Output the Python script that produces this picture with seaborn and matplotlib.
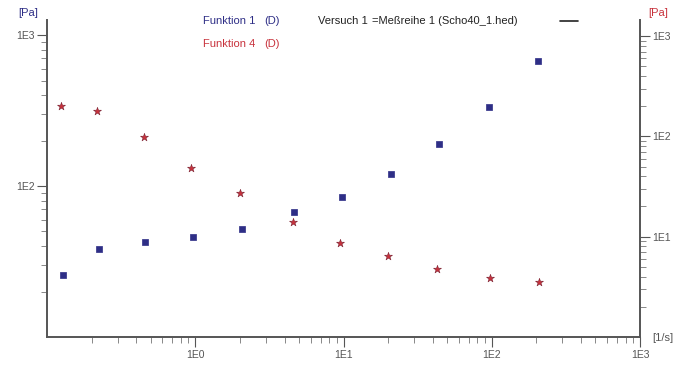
import numpy as np
import pandas as pd
import seaborn as sns
import matplotlib.pyplot as plt
from matplotlib.ticker import LogLocator, FixedLocator, FixedFormatter, NullFormatter

# Funktion 1 (left axis, Pa) -- blue
f1_x = [0.129, 0.225, 0.460, 0.969, 2.07, 4.61, 9.75, 21.0, 44.0, 95.9, 204]
f1_y = [25.6, 38.5, 42.4, 46.1, 51.6, 67.3, 84.5, 120.6, 190.6, 333, 673]

# Funktion 4 (right axis, Pa) -- red
f4_x = [0.124, 0.216, 0.453, 0.931, 2.00, 4.54, 9.50, 20.1, 42.5, 96.7, 207]
f4_y = [202, 180, 98.6, 48.1, 27.5, 14.1, 8.71, 6.42, 4.71, 3.90, 3.56]

x_ticks = [1, 10, 100, 1000]
x_labels = ["1E0", "1E1", "1E2", "1E3"]
left_ticks = [100, 1000]
left_labels = ["1E2", "1E3"]
right_ticks = [10, 100, 1000]
right_labels = ["1E1", "1E2", "1E3"]

df1 = pd.DataFrame({"x": f1_x, "y": f1_y})
df4 = pd.DataFrame({"x": f4_x, "y": f4_y})

sns.set_theme(style="white")
plt.rcParams['font.family'] = ['Liberation Sans', 'DejaVu Sans']

W, H = 684, 365
fig = plt.figure(figsize=(W / 100, H / 100), dpi=100)
ax = fig.add_axes([47 / W, 1 - 337 / H, (640 - 47) / W, (337 - 20) / H])
ax2 = ax.twinx()

blue = "#2e2e86"
red = "#c8323c"
axis_col = "#555555"

sns.scatterplot(data=df1, x="x", y="y", ax=ax, marker="s", s=16, color=blue,
                edgecolor=blue, linewidth=0.5)
sns.scatterplot(data=df4, x="x", y="y", ax=ax2, marker="*", s=36, color=red,
                edgecolor="#7a2030", linewidth=0.4)

ax.set_xscale("log")
ax.set_yscale("log")
ax2.set_yscale("log")
ax.set_xlim(0.1, 1000)
ax.set_ylim(10, 10 ** 3.1)
ax2.set_ylim(1, 10 ** 3.16)

for a in (ax, ax2):
    a.set_xlabel("")
    a.set_ylabel("")
    a.spines["top"].set_visible(False)
    for sp in a.spines.values():
        sp.set_color(axis_col)
        sp.set_linewidth(1.4)
    a.tick_params(which="major", length=7, width=0.8, color=axis_col,
                  labelsize=7.5, labelcolor="#555555", pad=2)
    a.tick_params(which="minor", length=4, width=0.7, color="#888888")

ax.tick_params(which="both", bottom=True, left=True, right=False, top=False)
ax2.tick_params(which="both", right=True, left=False, bottom=False, top=False)

ax.spines["right"].set_visible(False)
ax2.spines["left"].set_visible(False)
ax2.spines["bottom"].set_visible(False)

ax.xaxis.set_major_locator(FixedLocator(x_ticks))
ax.xaxis.set_major_formatter(FixedFormatter(x_labels))
ax.xaxis.set_minor_locator(LogLocator(base=10, subs=np.arange(2, 10)))
ax.xaxis.set_minor_formatter(NullFormatter())

ax.yaxis.set_major_locator(FixedLocator(left_ticks))
ax.yaxis.set_major_formatter(FixedFormatter(left_labels))
ax.yaxis.set_minor_locator(LogLocator(base=10, subs=np.arange(2, 10)))
ax.yaxis.set_minor_formatter(NullFormatter())

ax2.yaxis.set_major_locator(FixedLocator(right_ticks))
ax2.yaxis.set_major_formatter(FixedFormatter(right_labels))
ax2.yaxis.set_minor_locator(LogLocator(base=10, subs=np.arange(2, 10)))
ax2.yaxis.set_minor_formatter(NullFormatter())

ax.grid(False)
ax2.grid(False)


def px(x, y):
    return x / W, 1 - y / H


fs = 8
fig.text(*px(18, 13), "[Pa]", color=blue, fontsize=fs, va="center")
fig.text(*px(648, 13), "[Pa]", color=red, fontsize=fs, va="center")
fig.text(*px(652, 338), "[1/s]", color="#555555", fontsize=fs, va="center")

fig.text(*px(203, 21), "Funktion 1", color=blue, fontsize=fs, va="center")
fig.text(*px(264, 21), "(D)", color=blue, fontsize=fs, va="center")
fig.text(*px(203, 44), "Funktion 4", color=red, fontsize=fs, va="center")
fig.text(*px(264, 44), "(D)", color=red, fontsize=fs, va="center")
fig.text(*px(318, 21), "Versuch 1", color="#222222", fontsize=fs, va="center")
fig.text(*px(372, 21), "=Meßreihe 1 (Scho40_1.hed)", color="#222222",
         fontsize=fs, va="center")
fig.add_artist(plt.Line2D([560 / W, 578 / W], [1 - 21 / H, 1 - 21 / H],
                          color="#222222", linewidth=1.2,
                          transform=fig.transFigure))

fig.savefig("out.png", dpi=100)
